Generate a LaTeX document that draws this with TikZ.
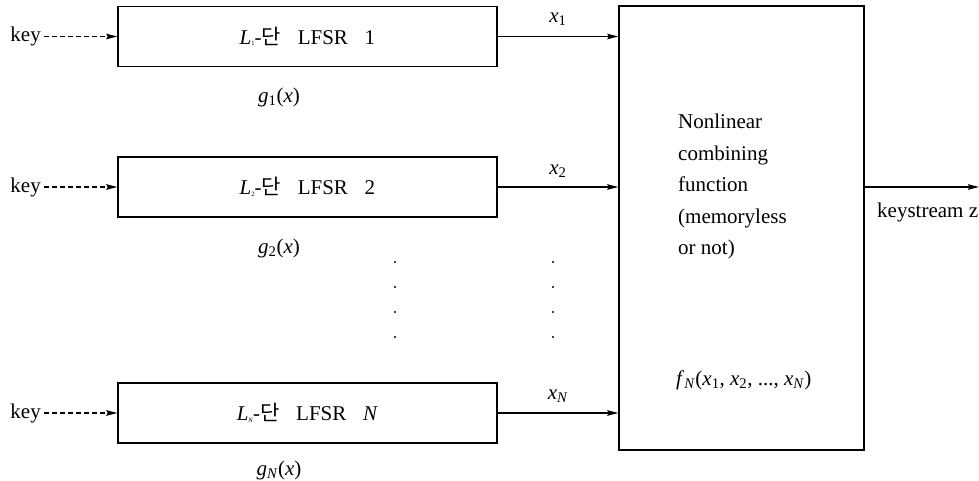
\documentclass[tikz,border=0pt]{standalone}
\usepackage{fontspec}
\setmainfont{Liberation Serif}
\newfontfamily\krfont{Noto Sans CJK KR}
\usetikzlibrary{arrows.meta}
\newcommand{\lsub}[1]{\raisebox{-1.5pt}{\fontsize{6.5}{6.5}\selectfont #1}}
\newcommand{\isub}[1]{\textsubscript{#1}}
\begin{document}
\begin{tikzpicture}[x=1pt,y=-1pt,
  every node/.style={font=\fontsize{21}{25}\selectfont, inner sep=0pt},
  lfsrbox/.style={draw, line width=1.4pt, minimum width=379pt, minimum height=60pt},
  funcbox/.style={draw, line width=1.4pt, minimum width=245pt, minimum height=444pt},
  arr/.style={line width=1.4pt, -{Stealth[length=11pt,width=5.5pt,inset=1.5pt]}},
  darr/.style={arr, dash pattern=on 5pt off 3pt},
  dotm/.style={circle, fill, inner sep=0pt, minimum size=2.4pt}]
\useasboundingbox (0,0) rectangle (979,481);
% LFSR boxes
\node[lfsrbox] (b1) at (307.5,36.5) {\textit{L}\lsub{1}-{\krfont 단}\hspace{0.8em}LFSR\hspace{0.8em}1};
\node[lfsrbox] (b2) at (307.5,187) {\textit{L}\lsub{2}-{\krfont 단}\hspace{0.8em}LFSR\hspace{0.8em}2};
\node[lfsrbox] (bN) at (307.5,413) {\textit{L}\lsub{\textit{N}}-{\krfont 단}\hspace{0.8em}LFSR\hspace{0.8em}\textit{N}};
% key inputs
\node[anchor=east] (k1) at (41,36.5) {key};
\node[anchor=east] (k2) at (41,187) {key};
\node[anchor=east] (kN) at (41,413) {key};
\draw[darr] ([xshift=3pt]k1.east) -- (b1.west);
\draw[darr] ([xshift=3pt]k2.east) -- (b2.west);
\draw[darr] ([xshift=3pt]kN.east) -- (bN.west);
% polynomials
\node (g1) at (279,97) {\textit{g}\isub{1}(\textit{x})};
\node (g2) at (279,248) {\textit{g}\isub{2}(\textit{x})};
\node (gN) at (279,470) {\textit{g}\isub{\textit{N}}(\textit{x})};
% combining function box
\node[funcbox] (F) at (741.5,228) {};
\node[anchor=west, align=left, font=\fontsize{21}{31.5}\selectfont] (ftext) at (678,186.5)
  {Nonlinear\\combining\\function\\(memoryless\\or not)};
\node[anchor=west] (fN) at (676,380)
  {\textit{f}\isub{\textit{N}}(\textit{x}\isub{1}, \textit{x}\isub{2}, ..., \textit{x}\isub{\textit{N}})};
% outputs of LFSRs
\draw[arr] (b1.east) -- (b1.east -| F.west);
\draw[arr] (b2.east) -- (b2.east -| F.west);
\draw[arr] (bN.east) -- (bN.east -| F.west);
\node (x1) at (558,19) {\textit{x}\isub{1}};
\node (x2) at (558,171) {\textit{x}\isub{2}};
\node (xN) at (558,396) {\textit{x}\isub{\textit{N}}};
% output
\coordinate (out) at (979,187);
\draw[arr] (F.east |- out) -- (out);
\node[anchor=west] (ks) at (877,212) {keystream z};
% dots
\foreach \yy in {262,287,312,337} {
  \node[dotm] at (395,\yy) {};
  \node[dotm] at (553,\yy) {};
}
\end{tikzpicture}
\end{document}
